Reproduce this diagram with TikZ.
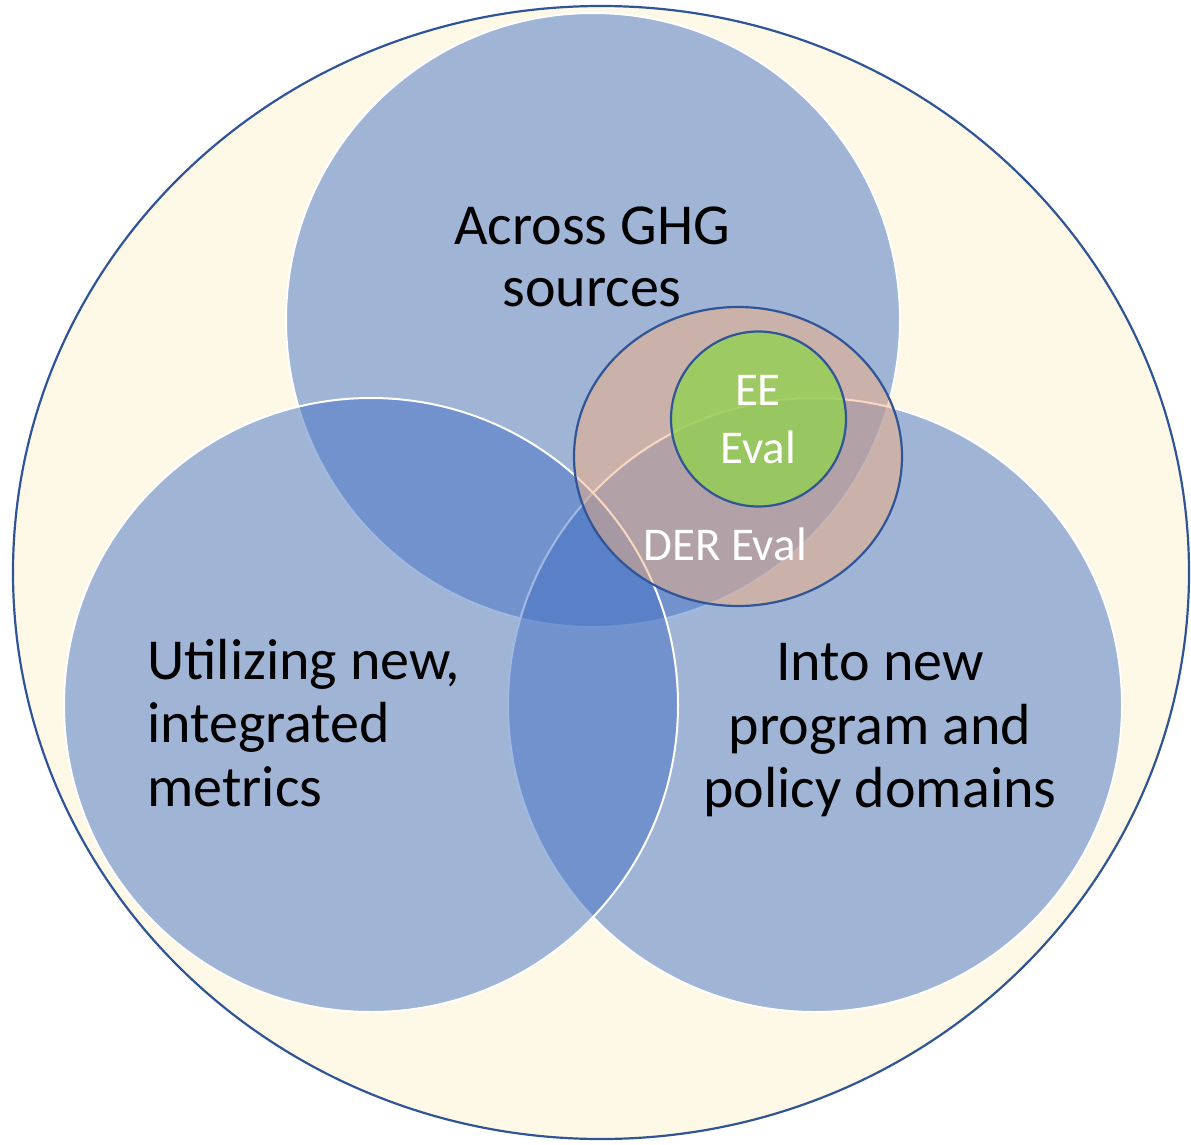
\documentclass[tikz,border=0pt]{standalone}
\usepackage{fontspec}
\setmainfont{Carlito}
\usetikzlibrary{shapes.geometric}
\definecolor{cream}{HTML}{FEF8E7}
\definecolor{vblue}{HTML}{4472C4}
\definecolor{dkblue}{HTML}{2F5597}
\definecolor{peach}{HTML}{F4B183}
\definecolor{eegreen}{HTML}{92D050}
\begin{document}
\begin{tikzpicture}[x=1pt,y=-1pt,
  outerring/.style={ellipse, draw=dkblue, fill=cream, line width=2.2pt, inner sep=0pt},
  venn/.style={circle, fill=vblue, fill opacity=0.5, draw=white, line width=2pt, minimum size=614pt, inner sep=0pt},
  derring/.style={ellipse, fill=peach, fill opacity=0.5, draw=dkblue, line width=2.2pt, inner sep=0pt},
  eering/.style={circle, fill=eegreen, fill opacity=0.8, draw=dkblue, line width=2.2pt, inner sep=0pt},
  bigtxt/.style={font=\fontsize{58}{63.5}\selectfont, inner sep=0pt, text=black},
  wtxt/.style={font=\fontsize{47}{58}\selectfont, inner sep=0pt, text=white}]
\useasboundingbox (0,0) rectangle (1191,1145);
\node[outerring, minimum width=1176pt, minimum height=1133pt] (outer) at (601,572.5) {};
\node[venn] (ctop) at (593,320) {};
\node[venn] (cright) at (815,705) {};
\node[venn] (cleft) at (371,705) {};
\node[derring, minimum width=328pt, minimum height=299pt] (der) at (738,456.5) {};
\node[eering, minimum size=175pt] (ee) at (758.5,419) {};
\node[bigtxt, align=center, font=\fontsize{58}{62}\selectfont] (ttop) at (592,257) {Across GHG\\sources};
\node[bigtxt, align=left, anchor=west] (tleft) at (147,723) {Utilizing new,\\integrated\\metrics};
\node[bigtxt, align=center] (tright) at (880,730.5) {Into new\\program and\\policy domains};
\node[wtxt, align=center] (tee) at (758,420) {EE\\Eval};
\node[wtxt, anchor=base] (tder) at (725,560) {DER Eval};
\end{tikzpicture}
\end{document}
